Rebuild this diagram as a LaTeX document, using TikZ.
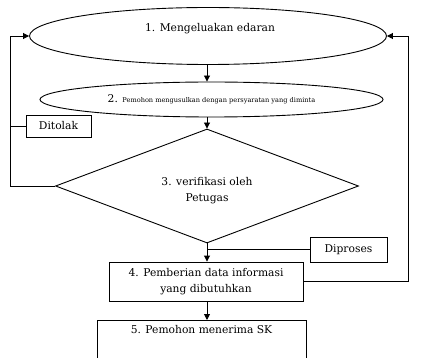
\documentclass[tikz,border=0pt]{standalone}
\usepackage{fontspec}
\setmainfont{DejaVu Serif}
\usetikzlibrary{shapes.geometric,arrows.meta}
\begin{document}
\begin{tikzpicture}[x=1pt,y=-1pt,
  every node/.style={font=\fontsize{10.7}{15.5}\selectfont},
  ln/.style={draw=black,line width=0.9pt},
  arr/.style={ln,-{Triangle[length=6pt,width=6pt]}},
  ell/.style={ln,ellipse,inner sep=0pt},
  boxs/.style={ln,rectangle,inner sep=0pt,align=center},
  dia/.style={ln,diamond,inner sep=0pt}]
\useasboundingbox (0,0) rectangle (439,358);
\clip (0,0) rectangle (439,358);
\coordinate (L) at (10,0);
\coordinate (R) at (408,0);
\node[ell,minimum width=357pt,minimum height=57pt] (e1) at (208,36) {};
\node (t1) at (210,29) {1. Mengeluakan edaran};
\node[ell,minimum width=343pt,minimum height=35pt] (e2) at (211.5,99.5) {2. {\fontsize{6.6}{8}\selectfont Pemohon mengusulkan dengan persyaratan yang diminta}};
\node[dia,minimum width=303pt,minimum height=114pt] (d) at (207,186) {};
\node[align=center] (t3) at (207,190.5) {3. verifikasi oleh\\Petugas};
\node[boxs,minimum width=65pt,minimum height=22pt] (dt) at (58.5,126) {Ditolak};
\node[boxs,minimum width=77pt,minimum height=25pt] (dp) at (348.5,249.5) {Diproses};
\node[boxs,minimum width=194pt,minimum height=39pt] (b4) at (206,281.5) {4. Pemberian data informasi\\yang dibutuhkan};
\node[ln,rectangle,anchor=north,minimum width=209pt,inner sep=5pt,text height=8pt,text depth=32pt] (b5) at (201.5,320) {5. Pemohon menerima SK};
\draw[arr] (e1.south -| d.north) -- (d.north |- e2.north);
\draw[arr] (d.north |- e2.south) -- (d.north);
\draw[arr] (d.south) -- (d.south |- b4.north);
\draw[arr] (d.south |- b4.south) -- (d.south |- b5.north);
\draw[arr] (d.west) -- (L |- d.west) -- (L |- e1.west) -- (e1.west);
\draw[ln] (L |- dt.west) -- (dt.west);
\draw[arr] (b4.east) -- (R |- b4.east) -- (R |- e1.east) -- (e1.east);
\draw[ln] (d.south |- dp.west) -- (dp.west);
\end{tikzpicture}
\end{document}
